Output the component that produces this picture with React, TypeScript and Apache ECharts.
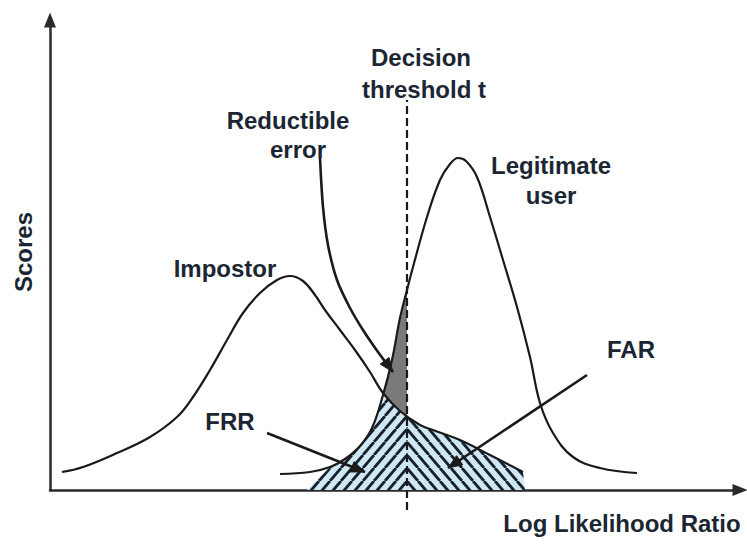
import React, { useEffect, useRef } from "react";
import * as echarts from "echarts";

// Axis extents (abstract units)
const xMax = 13.8;
const yMax = 9.4;

// Impostor score distribution [LLR, score]
const impostorCurve: [number, number][] = [
  [0.24, 0.36], [0.66, 0.46], [1.34, 0.74], [2.0, 1.06], [2.54, 1.46], [2.86, 1.86],
  [3.2, 2.4], [3.54, 3.0], [3.86, 3.54], [4.2, 3.94], [4.54, 4.2], [4.8, 4.28],
  [5.06, 4.18], [5.3, 3.9], [5.5, 3.6], [5.8, 3.2], [6.1, 2.8], [6.4, 2.36],
  [6.66, 1.94], [7.0, 1.58], [7.4, 1.3], [7.66, 1.2], [8.2, 1.0], [8.8, 0.7], [9.46, 0.36],
];

// Legitimate user score distribution [LLR, score]
const legitimateCurve: [number, number][] = [
  [4.6, 0.32], [5.2, 0.36], [5.6, 0.46], [5.9, 0.62], [6.2, 0.88], [6.44, 1.24],
  [6.66, 1.9], [6.84, 2.6], [7.0, 3.44], [7.14, 4.0], [7.26, 4.46], [7.54, 5.46],
  [7.8, 6.2], [8.0, 6.52], [8.16, 6.64], [8.32, 6.58], [8.54, 6.26], [8.8, 5.46],
  [9.06, 4.6], [9.34, 3.66], [9.6, 2.66], [9.8, 1.74], [10.06, 1.14], [10.46, 0.66],
  [11.0, 0.44], [11.74, 0.34],
];

// Shaded regions
const frrRegion: [number, number][] = [
  [5.14, 0], [5.6, 0.46], [5.9, 0.62], [6.2, 0.88], [6.44, 1.24], [6.66, 1.9],
  [6.9, 1.7], [7.14, 1.48], [7.14, 0],
];
const farRegion: [number, number][] = [
  [7.14, 0], [7.14, 1.48], [7.4, 1.3], [7.66, 1.2], [8.2, 1.0], [8.8, 0.7],
  [9.46, 0.36], [9.5, 0],
];
const reducibleRegion: [number, number][] = [
  [6.66, 1.9], [6.84, 2.64], [7.0, 3.36], [7.14, 4.0], [7.14, 1.48], [6.9, 1.7],
];

// Decision threshold
const thresholdX = 7.14;
const thresholdSpan: [number, number] = [-0.4, 7.8];

// Annotation arrows (from -> tip)
const frrArrow: [number, number][] = [[4.34, 1.14], [6.3, 0.36]];
const farArrow: [number, number][] = [[10.74, 2.3], [7.96, 0.44]];
const reducibleArrow: [number, number][] = [
  [5.4, 6.64], [5.46, 5.66], [5.56, 4.9], [5.74, 4.2], [6.0, 3.64], [6.26, 3.2],
  [6.56, 2.76], [6.86, 2.36],
];

const INK = "#1a1a1a";
const TEXT = "#1c2633";
const FONT = 'bold 24px "Liberation Sans", Arial, sans-serif';

function hatch(dir: number) {
  const w = 11;
  const h = 13;
  const d =
    dir > 0
      ? `M0,${h} L${w},0 M${-w},${h} L0,0 M${w},${h} L${2 * w},0`
      : `M0,0 L${w},${h} M${-w},0 L0,${h} M${w},0 L${2 * w},${h}`;
  const svg = `<svg xmlns="http://www.w3.org/2000/svg" width="${w}" height="${h}"><rect width="${w}" height="${h}" fill="#cfe7f5"/><path d="${d}" stroke="#17212c" stroke-width="2.8" fill="none"/></svg>`;
  return {
    image: "data:image/svg+xml;charset=utf-8," + encodeURIComponent(svg),
    repeat: "repeat",
    imageWidth: w,
    imageHeight: h,
  };
}

function arrowHead(prev: number[], tip: number[], len = 14, half = 5.5) {
  const dx = tip[0] - prev[0];
  const dy = tip[1] - prev[1];
  const l = Math.hypot(dx, dy) || 1;
  const ux = dx / l;
  const uy = dy / l;
  const bx = tip[0] - ux * len;
  const by = tip[1] - uy * len;
  return [
    [tip[0], tip[1]],
    [bx - uy * half, by + ux * half],
    [bx + uy * half, by - ux * half],
  ];
}

function text(t: string, x: number, y: number, extra: any = {}) {
  return {
    type: "text",
    x,
    y,
    ...extra,
    style: {
      text: t,
      font: FONT,
      fill: TEXT,
      textAlign: "center",
      textVerticalAlign: "middle",
      align: "center",
      verticalAlign: "middle",
    },
  };
}

export default function App() {
  const ref = useRef<HTMLDivElement>(null);

  useEffect(() => {
    if (!ref.current) return;
    const chart = echarts.init(ref.current, null, { renderer: "svg" });

    const axisLine = {
      show: true,
      onZero: false,
      symbol: ["none", "triangle"],
      symbolSize: [12, 15],
      lineStyle: { color: "#2a2a2a", width: 2.5 },
    };

    chart.setOption({
      animation: false,
      backgroundColor: "#ffffff",
      grid: { left: 50, right: 7, top: 20, bottom: 61 },
      xAxis: {
        type: "value",
        min: 0,
        max: xMax,
        axisLine,
        axisTick: { show: false },
        axisLabel: { show: false },
        splitLine: { show: false },
      },
      yAxis: {
        type: "value",
        min: 0,
        max: yMax,
        axisLine,
        axisTick: { show: false },
        axisLabel: { show: false },
        splitLine: { show: false },
      },
      series: [
        {
          type: "custom",
          coordinateSystem: "cartesian2d",
          data: [[0, 0]],
          z: 1,
          silent: true,
          clip: false,
          renderItem: (_p: any, api: any) => {
            const px = (pts: number[][]) => pts.map((p) => api.coord(p));
            return {
              type: "group",
              children: [
                { type: "polygon", shape: { points: px(frrRegion) }, style: { fill: hatch(1) } },
                { type: "polygon", shape: { points: px(farRegion) }, style: { fill: hatch(-1) } },
                { type: "polygon", shape: { points: px(reducibleRegion) }, style: { fill: "#7a7a7a" } },
              ],
            };
          },
        },
        {
          type: "line",
          data: impostorCurve,
          smooth: 0.4,
          showSymbol: false,
          silent: true,
          z: 3,
          lineStyle: { color: INK, width: 2.2 },
        },
        {
          type: "line",
          data: legitimateCurve,
          smooth: 0.4,
          showSymbol: false,
          silent: true,
          z: 3,
          lineStyle: { color: INK, width: 2.2 },
        },
        {
          type: "custom",
          coordinateSystem: "cartesian2d",
          data: [[0, 0]],
          z: 5,
          silent: true,
          clip: false,
          renderItem: (_p: any, api: any) => {
            const px = (pts: number[][]) => pts.map((p) => api.coord(p));
            const t0 = api.coord([thresholdX, thresholdSpan[0]]);
            const t1 = api.coord([thresholdX, thresholdSpan[1]]);
            const children: any[] = [
              {
                type: "line",
                shape: { x1: t0[0], y1: t0[1], x2: t1[0], y2: t1[1] },
                style: { stroke: INK, lineWidth: 2.2, lineDash: [8, 4] },
              },
            ];
            [frrArrow, farArrow, reducibleArrow].forEach((a) => {
              const pts = px(a);
              const n = pts.length;
              const head = arrowHead(pts[n - 2], pts[n - 1]);
              children.push({
                type: "polyline",
                shape: { points: pts, smooth: n > 2 ? 0.3 : 0 },
                style: { stroke: INK, lineWidth: 2.6, fill: "none" },
              });
              children.push({
                type: "polygon",
                shape: { points: head },
                style: { fill: INK, stroke: INK, lineWidth: 1 },
              });
            });
            return { type: "group", children };
          },
        },
      ],
      graphic: [
        text("Decision", 421, 57),
        text("threshold t", 424, 89),
        text("Reductible", 288, 120),
        text("error", 298, 149),
        text("Legitimate", 551, 165),
        text("user", 551, 195),
        text("Impostor", 225, 268),
        text("FRR", 230, 421),
        text("FAR", 631, 349),
        text("Log Likelihood Ratio", 622, 523),
        text("Scores", 23, 252, { rotation: Math.PI / 2 }),
      ],
    });

    return () => chart.dispose();
  }, []);

  return (
    <div
      ref={ref}
      style={{ position: "absolute", left: 0, top: 0, width: 747, height: 551, background: "#fff" }}
    />
  );
}
